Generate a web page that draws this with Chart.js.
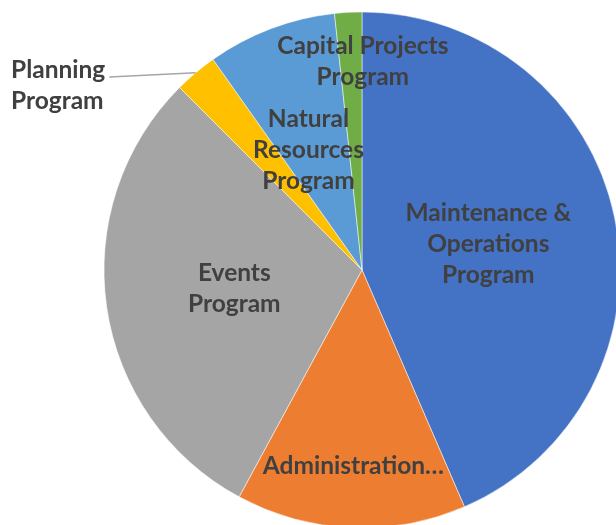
<!DOCTYPE html>
<html>
<head>
<meta charset="utf-8">
<script src="https://cdn.jsdelivr.net/npm/chart.js@4.4.1/dist/chart.umd.min.js"></script>
<style>
  html, body { margin: 0; padding: 0; background: #fff; overflow: hidden; }
  #wrap { position: relative; width: 616px; height: 525px; overflow: hidden; }
  #chart { position: absolute; left: 0; top: 0; }
</style>
</head>
<body>
<div id="wrap"><canvas id="chart" width="724" height="540"></canvas></div>
<script>
const programs = [
  'Maintenance & Operations Program',
  'Administration Program',
  'Events Program',
  'Planning Program',
  'Natural Resources Program',
  'Capital Projects Program',
]
// share of budget, percent
const shares = [43.5, 14.4, 29.6, 2.7, 8.1, 1.7]
// text shown on each slice
const sliceText = [
  ['Maintenance &', 'Operations', 'Program'],
  ['Administration…'],
  ['Events', 'Program'],
  ['Planning', 'Program'],
  ['Natural', 'Resources', 'Program'],
  ['Capital Projects', 'Program'],
]
const colors = ['#4472C4', '#ED7D31', '#A5A5A5', '#FFC000', '#5B9BD5', '#70AD47']

// where each label goes: fraction of radius along mid angle, plus a nudge
const placement = [
  { r: 0.5, dx: 0, dy: 0 },
  { r: 0.76, dx: 0, dy: 0 },
  { r: 0.5, dx: 0, dy: 0 },
  { outside: true, x: 11, y: 70 },
  { r: 0.51, dx: -7, dy: 3 },
  { r: 0.81, dx: 12, dy: 0 },
]

const FONT = 'bold 24.5px Lato, "Open Sans", sans-serif'
const LINE_H = 31

const sliceLabels = {
  id: 'sliceLabels',
  afterDatasetsDraw(chart) {
    const { ctx } = chart
    const meta = chart.getDatasetMeta(0)
    ctx.save()
    ctx.font = FONT
    ctx.fillStyle = '#404040'
    ctx.textBaseline = 'middle'
    meta.data.forEach((arc, i) => {
      const p = placement[i]
      const lines = sliceText[i]
      const mid = (arc.startAngle + arc.endAngle) / 2
      if (p.outside) {
        const ex = arc.x + Math.cos(mid) * arc.outerRadius
        const ey = arc.y + Math.sin(mid) * arc.outerRadius
        ctx.strokeStyle = '#A6A6A6'
        ctx.lineWidth = 1.5
        ctx.beginPath()
        ctx.moveTo(p.x + ctx.measureText(lines[0]).width + 4, p.y + 7)
        ctx.lineTo(ex, ey)
        ctx.stroke()
        ctx.textAlign = 'left'
        lines.forEach((t, k) => ctx.fillText(t, p.x, p.y + k * LINE_H))
        return
      }
      const rr = arc.outerRadius * p.r
      const cx = arc.x + Math.cos(mid) * rr + p.dx
      const cy = arc.y + Math.sin(mid) * rr + p.dy
      ctx.textAlign = 'center'
      const top = cy - ((lines.length - 1) * LINE_H) / 2
      lines.forEach((t, k) => ctx.fillText(t, cx, top + k * LINE_H))
    })
    ctx.restore()
  },
}

new Chart(document.getElementById('chart'), {
  type: 'pie',
  data: {
    labels: programs,
    datasets: [
      {
        data: shares,
        backgroundColor: colors,
        borderColor: '#ffffff',
        borderWidth: 0.5,
      },
    ],
  },
  options: {
    responsive: false,
    animation: false,
    radius: 258,
    layout: { padding: 0 },
    plugins: {
      legend: { display: false },
      tooltip: { enabled: false },
    },
  },
  plugins: [sliceLabels],
})
</script>
</body>
</html>
